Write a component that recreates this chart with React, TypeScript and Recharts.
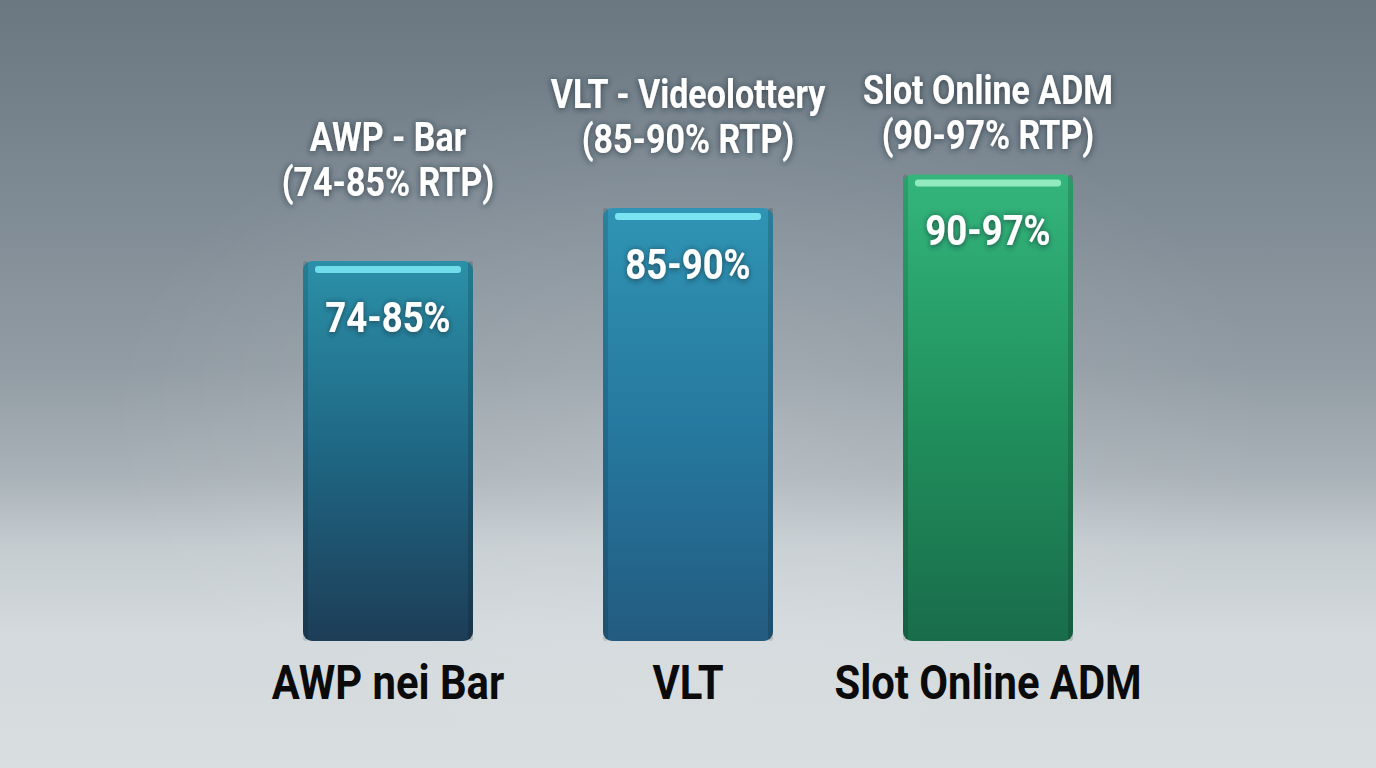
import { BarChart, Bar, XAxis, YAxis, Cell, LabelList } from "recharts";

// categories and values
const categories = ["AWP nei Bar", "VLT", "Slot Online ADM"];
const titles = ["AWP - Bar", "VLT - Videolottery", "Slot Online ADM"];
const rtpRanges = ["74-85%", "85-90%", "90-97%"];
// bar height level (percent scale)
const barLevel = [79, 90, 97];

const data = categories.map((c, i) => ({
  name: c,
  title: titles[i],
  range: rtpRanges[i],
  level: barLevel[i],
}));

const palettes = [
  { top: "#2b90a8", mid: "#1f6784", bottom: "#1d3d57", glow: "#78e6f2" },
  { top: "#3094b4", mid: "#2679a0", bottom: "#235b80", glow: "#82ecf7" },
  { top: "#34b57c", mid: "#21925e", bottom: "#196c4a", glow: "#9cf0c6" },
];

// gap between bar top and the baseline of its title's second line
const titleGap = [65, 55, 25];

const font = "Roboto, 'Noto Sans', sans-serif";

function BarShape(props: any) {
  const { x, y, width, height, index } = props;
  const p = palettes[index];
  return (
    <g>
      <rect x={x} y={y} width={width} height={height} rx={9} ry={9} fill={`url(#barGrad${index})`} />
      <rect x={x} y={y} width={5} height={height} rx={3} fill="#000" opacity={0.12} />
      <rect x={x + width - 5} y={y} width={5} height={height} rx={3} fill="#000" opacity={0.15} />
      <rect x={x + 12} y={y + 5} width={width - 24} height={7} rx={3} fill={p.glow} opacity={0.9} />
    </g>
  );
}

function TitleLabel(props: any) {
  const { x, y, width, index, value } = props;
  const cx = x + width / 2;
  const base = y - titleGap[index];
  return (
    <g filter="url(#txtShadow)">
      <text
        transform={`translate(${cx},${base - 45}) scale(0.85,1)`}
        textAnchor="middle"
        fill="#ffffff"
        fontFamily={font}
        fontWeight={700}
        fontSize={40}
      >
        {value}
      </text>
      <text
        transform={`translate(${cx},${base}) scale(0.85,1)`}
        textAnchor="middle"
        fill="#ffffff"
        fontFamily={font}
        fontWeight={700}
        fontSize={40}
      >
        {`(${rtpRanges[index]} RTP)`}
      </text>
    </g>
  );
}

function ValueLabel(props: any) {
  const { x, y, width, value } = props;
  return (
    <text
      transform={`translate(${x + width / 2},${y + 71}) scale(0.87,1)`}
      textAnchor="middle"
      fill="#ffffff"
      fontFamily={font}
      fontWeight={700}
      fontSize={42}
      filter="url(#txtShadow)"
    >
      {value}
    </text>
  );
}

function CategoryTick(props: any) {
  const { x, y, payload } = props;
  return (
    <text
      transform={`translate(${x},${y + 50}) scale(0.87,1)`}
      textAnchor="middle"
      fill="#0b0b0b"
      fontFamily={font}
      fontWeight={700}
      fontSize={48}
    >
      {payload.value}
    </text>
  );
}

export default function App() {
  return (
    <div
      style={{
        position: "fixed",
        left: 0,
        top: 0,
        width: 1376,
        height: 768,
        overflow: "hidden",
        background:
          "radial-gradient(ellipse at 50% 55%, rgba(255,255,255,0.16) 0%, rgba(255,255,255,0) 60%), linear-gradient(180deg, #6a7781 0%, #7d8993 25%, #929ca4 48%, #a9b2b8 62%, #c4ccd0 71%, #d3d9dc 82%, #d9dee0 100%)",
      }}
    >
      <BarChart
        width={1376}
        height={768}
        data={data}
        margin={{ top: 160, right: 238, bottom: 0, left: 238 }}
        barSize={170}
      >
        <defs>
          {palettes.map((p, i) => (
            <linearGradient key={i} id={`barGrad${i}`} x1="0" y1="0" x2="0" y2="1">
              <stop offset="0%" stopColor={p.top} />
              <stop offset="50%" stopColor={p.mid} />
              <stop offset="100%" stopColor={p.bottom} />
            </linearGradient>
          ))}
          <filter id="txtShadow" x="-20%" y="-40%" width="140%" height="180%">
            <feDropShadow dx="0" dy="1" stdDeviation="3" floodColor="#1a2630" floodOpacity="0.75" />
          </filter>
        </defs>
        <XAxis
          dataKey="name"
          axisLine={false}
          tickLine={false}
          tick={<CategoryTick />}
          interval={0}
          height={127}
        />
        <YAxis hide domain={[0, 100]} />
        <Bar dataKey="level" shape={<BarShape />} isAnimationActive={false}>
          {data.map((d, i) => (
            <Cell key={d.name} fill={palettes[i].top} />
          ))}
          <LabelList dataKey="title" content={<TitleLabel />} />
          <LabelList dataKey="range" content={<ValueLabel />} />
        </Bar>
      </BarChart>
    </div>
  );
}
